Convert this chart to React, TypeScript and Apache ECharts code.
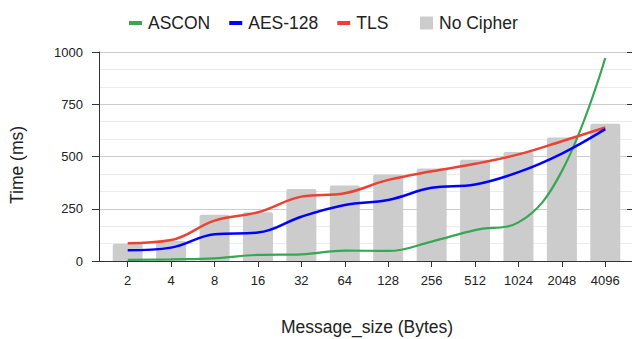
import React, { useEffect, useRef } from "react";
import * as echarts from "echarts";

const categories = ["2", "4", "8", "16", "32", "64", "128", "256", "512", "1024", "2048", "4096"];
const ascon = [5, 8, 13, 29, 32, 50, 48, 93, 148, 185, 430, 971];
const aes128 = [51, 64, 128, 136, 212, 268, 292, 350, 366, 425, 514, 631];
const tls = [85, 100, 193, 233, 308, 324, 388, 429, 465, 510, 573, 639];
const noCipher = [83, 96, 221, 233, 345, 361, 414, 443, 485, 522, 591, 657];
const yTicks = [0, 250, 500, 750, 1000];

const FONT = "'Liberation Sans', Arial, sans-serif";

export default function App() {
  const ref = useRef<HTMLDivElement>(null);
  useEffect(() => {
    if (!ref.current) return;
    const chart = echarts.init(ref.current, undefined, { renderer: "svg" });
    const yMax = yTicks[yTicks.length - 1];
    const yInt = yTicks[1] - yTicks[0];
    chart.setOption({
      animation: false,
      textStyle: { fontFamily: FONT },
      legend: [
        {
          data: ["ASCON", "AES-128", "TLS"],
          left: 124,
          top: 9,
          icon: "rect",
          itemWidth: 13,
          itemHeight: 4,
          itemGap: 19,
          textStyle: { fontSize: 17.5, color: "#222", fontFamily: FONT, padding: [0, 0, 0, 1] },
        },
        {
          data: ["No Cipher"],
          left: 415,
          top: 9,
          icon: "rect",
          itemWidth: 13,
          itemHeight: 13,
          textStyle: { fontSize: 17.5, color: "#222", fontFamily: FONT, padding: [0, 0, 0, 1] },
        },
      ],
      grid: [
        { left: 106, right: 5, top: 52, bottom: 78 },
        { left: 99, right: 0, top: 52, bottom: 78 },
      ],
      xAxis: [
        {
          type: "category",
          gridIndex: 0,
          data: categories,
          boundaryGap: true,
          axisLine: { show: false },
          axisTick: { show: true, alignWithLabel: true, length: 6, lineStyle: { color: "#333", width: 1 } },
          axisLabel: { fontSize: 13, color: "#222", margin: 13, interval: 0, fontFamily: FONT },
          splitLine: { show: false },
        },
        {
          type: "category",
          gridIndex: 0,
          data: categories,
          position: "bottom",
          boundaryGap: true,
          axisLine: { show: false },
          axisTick: { show: true, inside: true, alignWithLabel: true, length: 3, lineStyle: { color: "#333", width: 1 } },
          axisLabel: { show: false },
          splitLine: { show: false },
        },
        {
          type: "value",
          gridIndex: 1,
          min: 0,
          max: 1,
          axisLine: { show: true, lineStyle: { color: "#333", width: 1 } },
          axisTick: { show: false },
          axisLabel: { show: false },
          splitLine: { show: false },
        },
      ],
      yAxis: [
        {
          type: "value",
          gridIndex: 0,
          min: 0,
          max: yMax,
          interval: yInt,
          axisLine: { show: false },
          axisTick: { show: false },
          axisLabel: { show: false },
          splitLine: { show: false },
        },
        {
          type: "value",
          gridIndex: 1,
          min: 0,
          max: yMax,
          interval: yInt,
          axisLine: { show: true, lineStyle: { color: "#333", width: 1 } },
          axisTick: { show: true, length: 7, lineStyle: { color: "#333", width: 1 } },
          axisLabel: {
            fontSize: 13,
            color: "#222",
            margin: 16,
            fontFamily: FONT,
            formatter: (v: number) => String(v),
          },
          splitLine: { show: true, lineStyle: { color: "#cccccc", width: 1 } },
          minorTick: { show: false, splitNumber: 3 },
          minorSplitLine: { show: true, lineStyle: { color: "#ebebeb", width: 1 } },
        },
        {
          type: "value",
          gridIndex: 1,
          min: 0,
          max: yMax,
          interval: yInt,
          axisLine: { show: false },
          axisTick: { show: true, inside: true, length: 5, lineStyle: { color: "#333", width: 1 } },
          axisLabel: { show: false },
          splitLine: { show: false },
        },
      ],
      graphic: [
        {
          type: "text",
          left: 369 - 88,
          top: 318,
          style: { text: "Message_size (Bytes)", fontSize: 17.5, fill: "#222", fontFamily: FONT },
        },
        {
          type: "text",
          x: 17,
          y: 165,
          rotation: Math.PI / 2,
          style: {
            text: "Time (ms)",
            fontSize: 17.5,
            fill: "#222",
            fontFamily: FONT,
            align: "center",
            verticalAlign: "middle",
          },
        },
      ],
      series: [
        {
          name: "No Cipher",
          type: "bar",
          xAxisIndex: 0,
          yAxisIndex: 0,
          data: noCipher,
          barWidth: 30,
          itemStyle: { color: "#cccccc", borderRadius: [2, 2, 0, 0] },
          z: 1,
        },
        {
          name: "ASCON",
          type: "line",
          xAxisIndex: 0,
          yAxisIndex: 0,
          data: ascon,
          smooth: 0.4,
          showSymbol: false,
          symbol: "none",
          lineStyle: { color: "#34a853", width: 2.2 },
          itemStyle: { color: "#34a853" },
          z: 3,
        },
        {
          name: "AES-128",
          type: "line",
          xAxisIndex: 0,
          yAxisIndex: 0,
          data: aes128,
          smooth: 0.4,
          showSymbol: false,
          symbol: "none",
          lineStyle: { color: "#0000ff", width: 2.5 },
          itemStyle: { color: "#0000ff" },
          z: 4,
        },
        {
          name: "TLS",
          type: "line",
          xAxisIndex: 0,
          yAxisIndex: 0,
          data: tls,
          smooth: 0.4,
          showSymbol: false,
          symbol: "none",
          lineStyle: { color: "#ea4335", width: 2.5 },
          itemStyle: { color: "#ea4335" },
          z: 3,
        },
      ],
    });
    return () => chart.dispose();
  }, []);
  return <div ref={ref} style={{ width: 632, height: 339, position: "absolute", left: 0, top: 0 }} />;
}
